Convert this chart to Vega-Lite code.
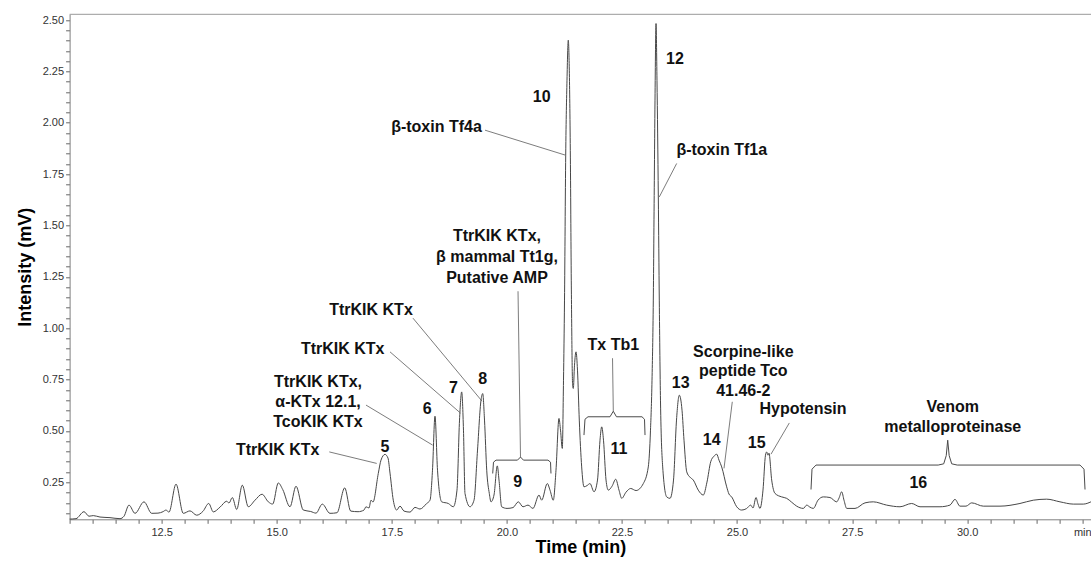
{
  "$schema": "https://vega.github.io/schema/vega-lite/v6.json",
  "width": 1021.4,
  "height": 505,
  "autosize": {"type": "none"},
  "padding": {"left": 69.6, "top": 14.3, "right": 0, "bottom": 43.7},
  "background": "white",
  "config": {"view": {"stroke": null}, "font": "Liberation Sans"},
  "datasets": {
    "trace": [
      {"t":10.5,"I":0.071},{"t":10.639,"I":0.073},{"t":10.813,"I":0.107},{"t":10.921,"I":0.085},{"t":11.015,"I":0.088},{"t":11.16,"I":0.081},{"t":11.378,"I":0.078},{"t":11.595,"I":0.073},{"t":11.682,"I":0.085},{"t":11.79,"I":0.139},{"t":11.921,"I":0.099},{"t":12.116,"I":0.155},{"t":12.284,"I":0.099},{"t":12.42,"I":0.1},{"t":12.529,"I":0.107},{"t":12.594,"I":0.115},{"t":12.659,"I":0.105},{"t":12.812,"I":0.241},{"t":12.97,"I":0.099},{"t":13.116,"I":0.111},{"t":13.261,"I":0.09},{"t":13.398,"I":0.109},{"t":13.522,"I":0.147},{"t":13.622,"I":0.106},{"t":13.767,"I":0.129},{"t":13.913,"I":0.158},{"t":13.963,"I":0.149},{"t":14.035,"I":0.176},{"t":14.13,"I":0.118},{"t":14.252,"I":0.236},{"t":14.382,"I":0.131},{"t":14.528,"I":0.163},{"t":14.68,"I":0.192},{"t":14.817,"I":0.155},{"t":14.912,"I":0.144},{"t":15.034,"I":0.247},{"t":15.13,"I":0.215},{"t":15.288,"I":0.131},{"t":15.419,"I":0.231},{"t":15.577,"I":0.115},{"t":15.738,"I":0.108},{"t":15.853,"I":0.1},{"t":15.99,"I":0.144},{"t":16.157,"I":0.099},{"t":16.309,"I":0.102},{"t":16.477,"I":0.223},{"t":16.607,"I":0.11},{"t":16.766,"I":0.107},{"t":16.896,"I":0.115},{"t":16.939,"I":0.131},{"t":17.004,"I":0.125},{"t":17.048,"I":0.163},{"t":17.091,"I":0.154},{"t":17.206,"I":0.293},{"t":17.265,"I":0.358},{"t":17.352,"I":0.386},{"t":17.417,"I":0.368},{"t":17.461,"I":0.295},{"t":17.532,"I":0.163},{"t":17.606,"I":0.115},{"t":17.678,"I":0.134},{"t":17.765,"I":0.11},{"t":17.895,"I":0.105},{"t":18.004,"I":0.128},{"t":18.112,"I":0.12},{"t":18.258,"I":0.147},{"t":18.33,"I":0.163},{"t":18.384,"I":0.309},{"t":18.438,"I":0.572},{"t":18.493,"I":0.309},{"t":18.584,"I":0.155},{"t":18.727,"I":0.147},{"t":18.836,"I":0.131},{"t":18.916,"I":0.212},{"t":18.971,"I":0.553},{"t":19.018,"I":0.69},{"t":19.057,"I":0.504},{"t":19.09,"I":0.196},{"t":19.199,"I":0.131},{"t":19.286,"I":0.163},{"t":19.362,"I":0.407},{"t":19.438,"I":0.65},{"t":19.475,"I":0.682},{"t":19.514,"I":0.553},{"t":19.562,"I":0.309},{"t":19.618,"I":0.196},{"t":19.655,"I":0.155},{"t":19.72,"I":0.188},{"t":19.792,"I":0.33},{"t":19.829,"I":0.261},{"t":19.887,"I":0.131},{"t":20.003,"I":0.123},{"t":20.133,"I":0.127},{"t":20.248,"I":0.155},{"t":20.35,"I":0.131},{"t":20.459,"I":0.139},{"t":20.567,"I":0.123},{"t":20.698,"I":0.188},{"t":20.756,"I":0.163},{"t":20.878,"I":0.244},{"t":20.937,"I":0.212},{"t":21.008,"I":0.163},{"t":21.067,"I":0.309},{"t":21.132,"I":0.561},{"t":21.165,"I":0.504},{"t":21.204,"I":0.415},{"t":21.23,"I":0.747},{"t":21.252,"I":1.137},{"t":21.278,"I":1.842},{"t":21.306,"I":2.207},{"t":21.334,"I":2.402},{"t":21.356,"I":2.256},{"t":21.378,"I":1.866},{"t":21.399,"I":1.234},{"t":21.43,"I":0.715},{"t":21.443,"I":0.707},{"t":21.469,"I":0.82},{"t":21.502,"I":0.885},{"t":21.534,"I":0.796},{"t":21.573,"I":0.553},{"t":21.625,"I":0.325},{"t":21.675,"I":0.228},{"t":21.741,"I":0.234},{"t":21.806,"I":0.244},{"t":21.893,"I":0.204},{"t":21.969,"I":0.261},{"t":22.023,"I":0.455},{"t":22.06,"I":0.52},{"t":22.099,"I":0.455},{"t":22.154,"I":0.261},{"t":22.203,"I":0.212},{"t":22.284,"I":0.231},{"t":22.365,"I":0.265},{"t":22.436,"I":0.212},{"t":22.495,"I":0.172},{"t":22.588,"I":0.202},{"t":22.69,"I":0.22},{"t":22.805,"I":0.21},{"t":22.964,"I":0.244},{"t":23.072,"I":0.325},{"t":23.12,"I":0.504},{"t":23.153,"I":0.747},{"t":23.181,"I":1.137},{"t":23.203,"I":1.72},{"t":23.218,"I":2.11},{"t":23.24,"I":2.483},{"t":23.261,"I":2.207},{"t":23.29,"I":1.639},{"t":23.311,"I":1.137},{"t":23.337,"I":0.65},{"t":23.385,"I":0.325},{"t":23.472,"I":0.179},{"t":23.544,"I":0.172},{"t":23.62,"I":0.261},{"t":23.685,"I":0.553},{"t":23.746,"I":0.674},{"t":23.805,"I":0.601},{"t":23.848,"I":0.455},{"t":23.907,"I":0.301},{"t":23.978,"I":0.275},{"t":24.05,"I":0.261},{"t":24.158,"I":0.212},{"t":24.267,"I":0.188},{"t":24.347,"I":0.251},{"t":24.428,"I":0.35},{"t":24.499,"I":0.377},{"t":24.558,"I":0.387},{"t":24.608,"I":0.358},{"t":24.667,"I":0.325},{"t":24.775,"I":0.228},{"t":24.825,"I":0.193},{"t":24.884,"I":0.179},{"t":24.993,"I":0.131},{"t":25.101,"I":0.115},{"t":25.205,"I":0.122},{"t":25.297,"I":0.139},{"t":25.347,"I":0.125},{"t":25.412,"I":0.176},{"t":25.456,"I":0.144},{"t":25.499,"I":0.123},{"t":25.564,"I":0.212},{"t":25.618,"I":0.382},{"t":25.644,"I":0.398},{"t":25.673,"I":0.382},{"t":25.694,"I":0.392},{"t":25.753,"I":0.261},{"t":25.825,"I":0.196},{"t":25.97,"I":0.179},{"t":26.079,"I":0.172},{"t":26.188,"I":0.153},{"t":26.296,"I":0.134},{"t":26.44,"I":0.123},{"t":26.514,"I":0.139},{"t":26.585,"I":0.129},{"t":26.657,"I":0.123},{"t":26.759,"I":0.163},{"t":26.874,"I":0.179},{"t":27.019,"I":0.176},{"t":27.165,"I":0.155},{"t":27.215,"I":0.173},{"t":27.274,"I":0.204},{"t":27.324,"I":0.163},{"t":27.383,"I":0.123},{"t":27.563,"I":0.123},{"t":27.78,"I":0.15},{"t":27.961,"I":0.155},{"t":28.251,"I":0.139},{"t":28.54,"I":0.131},{"t":28.794,"I":0.147},{"t":28.975,"I":0.131},{"t":29.409,"I":0.131},{"t":29.626,"I":0.139},{"t":29.735,"I":0.167},{"t":29.844,"I":0.134},{"t":29.974,"I":0.134},{"t":30.098,"I":0.15},{"t":30.35,"I":0.134},{"t":30.713,"I":0.134},{"t":31.147,"I":0.147},{"t":31.436,"I":0.163},{"t":31.727,"I":0.168},{"t":32.016,"I":0.155},{"t":32.305,"I":0.144},{"t":32.522,"I":0.144},{"t":32.689,"I":0.155}
    ],
    "labels": [
      {"text":"5","t":17.352,"I":0.423},
      {"text":"6","t":18.271,"I":0.605},
      {"text":"7","t":18.84,"I":0.711},
      {"text":"8","t":19.475,"I":0.755},
      {"text":"9","t":20.235,"I":0.252},
      {"text":"10","t":20.757,"I":2.124},
      {"text":"11","t":22.436,"I":0.41},
      {"text":"12","t":23.652,"I":2.308},
      {"text":"13","t":23.776,"I":0.734},
      {"text":"14","t":24.45,"I":0.458},
      {"text":"15","t":25.427,"I":0.442},
      {"text":"16","t":28.938,"I":0.247},
      {"text":"TtrKIK KTx","t":17.048,"I":1.088},
      {"text":"TtrKIK KTx","t":16.433,"I":0.901},
      {"text":"TtrKIK KTx,","t":15.897,"I":0.737},
      {"text":"α-KTx 12.1,","t":15.897,"I":0.64},
      {"text":"TcoKIK KTx","t":15.897,"I":0.543},
      {"text":"TtrKIK KTx","t":15.021,"I":0.407},
      {"text":"TtrKIK KTx,","t":19.785,"I":1.448},
      {"text":"β mammal Tt1g,","t":19.785,"I":1.346},
      {"text":"Putative AMP","t":19.785,"I":1.244},
      {"text":"β-toxin Tf4a","t":18.471,"I":1.978},
      {"text":"β-toxin Tf1a","t":24.667,"I":1.866},
      {"text":"Tx Tb1","t":22.312,"I":0.918},
      {"text":"Scorpine-like","t":25.136,"I":0.886},
      {"text":"peptide Tco","t":25.136,"I":0.791},
      {"text":"41.46-2","t":25.136,"I":0.696},
      {"text":"Hypotensin","t":26.433,"I":0.605},
      {"text":"Venom","t":29.686,"I":0.617},
      {"text":"metalloproteinase","t":29.686,"I":0.52}
    ],
    "leaders": [
      {"t":17.96,"I":1.049,"t2":19.46,"I2":0.645},
      {"t":17.461,"I":0.885,"t2":18.992,"I2":0.587},
      {"t":16.939,"I":0.626,"t2":18.388,"I2":0.431},
      {"t":16.142,"I":0.398,"t2":17.172,"I2":0.342},
      {"t":20.242,"I":1.18,"t2":20.296,"I2":0.373},
      {"t":19.525,"I":1.964,"t2":21.278,"I2":1.842},
      {"t":23.689,"I":1.802,"t2":23.311,"I2":1.639},
      {"t":22.295,"I":0.854,"t2":22.312,"I2":0.596},
      {"t":24.897,"I":0.642,"t2":24.717,"I2":0.318},
      {"t":26.136,"I":0.539,"t2":25.738,"I2":0.387}
    ],
    "frame": [
      {"t":10.5,"t2":32.69,"I":2.528}
    ],
    "brackets": [
      {"id":"9","k":1,"t":19.692,"I":0.293},{"id":"9","k":2,"t":19.709,"I":0.348},{"id":"9","k":3,"t":19.764,"I":0.358},{"id":"9","k":4,"t":20.23,"I":0.358},{"id":"9","k":5,"t":20.296,"I":0.373},{"id":"9","k":6,"t":20.36,"I":0.358},{"id":"9","k":7,"t":20.893,"I":0.358},{"id":"9","k":8,"t":20.948,"I":0.348},{"id":"9","k":9,"t":20.958,"I":0.293},
      {"id":"11","k":1,"t":21.675,"I":0.48},{"id":"11","k":2,"t":21.697,"I":0.557},{"id":"11","k":3,"t":21.762,"I":0.569},{"id":"11","k":4,"t":22.24,"I":0.569},{"id":"11","k":5,"t":22.312,"I":0.596},{"id":"11","k":6,"t":22.381,"I":0.569},{"id":"11","k":7,"t":22.935,"I":0.569},{"id":"11","k":8,"t":22.99,"I":0.557},{"id":"11","k":9,"t":23.001,"I":0.48},
      {"id":"16","k":1,"t":26.607,"I":0.215},{"id":"16","k":2,"t":26.629,"I":0.314},{"id":"16","k":3,"t":26.716,"I":0.334},{"id":"16","k":4,"t":29.37,"I":0.334},{"id":"16","k":5,"t":29.49,"I":0.34},{"id":"16","k":6,"t":29.545,"I":0.38},{"id":"16","k":7,"t":29.577,"I":0.455},{"id":"16","k":8,"t":29.609,"I":0.38},{"id":"16","k":9,"t":29.664,"I":0.34},{"id":"16","k":10,"t":29.784,"I":0.334},{"id":"16","k":11,"t":32.451,"I":0.334},{"id":"16","k":12,"t":32.538,"I":0.314},{"id":"16","k":13,"t":32.56,"I":0.215}
    ]
  },
  "encoding": {
    "x": {
      "field": "t", "type": "quantitative",
      "scale": {"domain": [10.5, 32.69], "nice": false, "zero": false},
      "axis": {
        "orient": "bottom",
        "values": [10.5,11,11.5,12,12.5,13,13.5,14,14.5,15,15.5,16,16.5,17,17.5,18,18.5,19,19.5,20,20.5,21,21.5,22,22.5,23,23.5,24,24.5,25,25.5,26,26.5,27,27.5,28,28.5,29,29.5,30,30.5,31,31.5,32,32.5],
        "labelExpr": "datum.value == 32.5 ? 'min' : (abs(datum.value/2.5 - round(datum.value/2.5)) < 0.001 ? format(datum.value, '.1f') : '')",
        "labelFont": "Liberation Sans", "labelFontSize": 11, "labelColor": "#333",
        "labelFlush": false, "labelOverlap": false, "labelBound": false, "labelPadding": 3,
        "ticks": true, "tickSize": 4, "tickColor": "#666", "tickWidth": 1, "domainColor": "#808080", "grid": false,
        "title": "Time (min)", "titleFont": "Liberation Sans", "titleFontSize": 18, "titleFontWeight": "bold", "titleColor": "#000", "titlePadding": 1
      }
    },
    "y": {
      "field": "I", "type": "quantitative",
      "scale": {"domain": [0.07, 2.528], "nice": false, "zero": false},
      "axis": {
        "orient": "left",
        "values": [0.1,0.15,0.2,0.25,0.3,0.35,0.4,0.45,0.5,0.55,0.6,0.65,0.7,0.75,0.8,0.85,0.9,0.95,1,1.05,1.1,1.15,1.2,1.25,1.3,1.35,1.4,1.45,1.5,1.55,1.6,1.65,1.7,1.75,1.8,1.85,1.9,1.95,2,2.05,2.1,2.15,2.2,2.25,2.3,2.35,2.4,2.45,2.5],
        "labelExpr": "abs(datum.value*4 - round(datum.value*4)) < 0.001 ? format(datum.value, '.2f') : ''",
        "labelFont": "Liberation Sans", "labelFontSize": 11, "labelColor": "#333",
        "labelFlush": false, "labelOverlap": false, "labelBound": false, "labelPadding": 2,
        "ticks": true, "tickSize": 4, "tickColor": "#666", "tickWidth": 1, "domainColor": "#808080", "grid": false,
        "title": "Intensity (mV)", "titleFont": "Liberation Sans", "titleFontSize": 18, "titleFontWeight": "bold", "titleColor": "#000", "titlePadding": 8
      }
    }
  },
  "layer": [
    {
      "data": {"name": "trace"},
      "mark": {"type": "line", "interpolate": "monotone", "color": "#474747", "strokeWidth": 1}
    },
    {
      "data": {"name": "frame"},
      "mark": {"type": "rule", "color": "#999", "strokeWidth": 1},
      "encoding": {"x2": {"field": "t2"}}
    },
    {
      "data": {"name": "brackets"},
      "mark": {"type": "line", "color": "#4a4a4a", "strokeWidth": 1},
      "encoding": {
        "detail": {"field": "id"},
        "order": {"field": "k"}
      }
    },
    {
      "data": {"name": "leaders"},
      "mark": {"type": "rule", "color": "#5a5a5a", "strokeWidth": 0.8},
      "encoding": {
        "x2": {"field": "t2"},
        "y2": {"field": "I2"}
      }
    },
    {
      "data": {"name": "labels"},
      "mark": {"type": "text", "font": "Liberation Sans", "fontWeight": "bold", "fontSize": 16, "align": "center", "baseline": "middle", "color": "#111"},
      "encoding": {
        "text": {"field": "text"}
      }
    }
  ]
}
